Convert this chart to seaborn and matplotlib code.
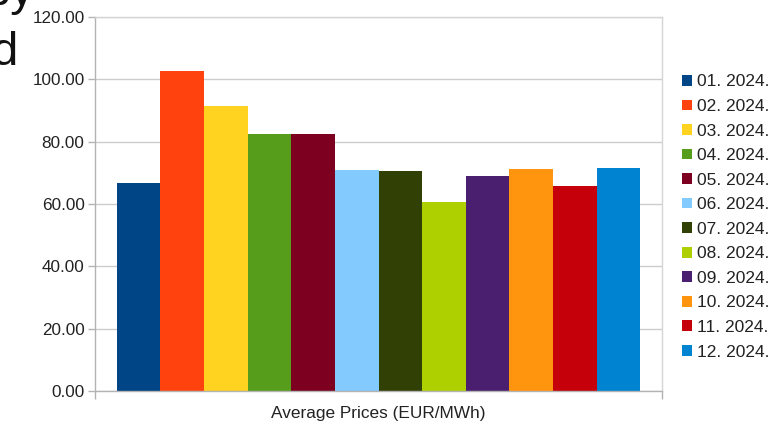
import matplotlib
matplotlib.use("Agg")
import matplotlib.pyplot as plt
import pandas as pd
import seaborn as sns
from matplotlib.patches import Patch
from matplotlib.ticker import FormatStrFormatter

months = ["01. 2024.", "02. 2024.", "03. 2024.", "04. 2024.", "05. 2024.", "06. 2024.",
          "07. 2024.", "08. 2024.", "09. 2024.", "10. 2024.", "11. 2024.", "12. 2024."]
prices = [66.7, 102.8, 91.3, 82.6, 82.3, 70.8, 70.6, 60.8, 69.1, 71.2, 65.7, 71.6]
category = "Average Prices (EUR/MWh)"
colors = ["#004586", "#ff420e", "#ffd320", "#579d1c", "#7e0021", "#83caff",
          "#314004", "#aecf00", "#4b1f6f", "#ff950e", "#c5000b", "#0084d1"]
yticks = [0, 20, 40, 60, 80, 100, 120]

sns.set_theme(style="white")
plt.rcParams["font.family"] = ["Liberation Sans", "DejaVu Sans"]

W, H = 769, 422
fig = plt.figure(figsize=(W / 100, H / 100), dpi=100)
ax = fig.add_axes([95 / W, 1 - 391 / H, (662 - 95) / W, (391 - 17) / H])

df = pd.DataFrame({"category": [category] * len(months), "month": months, "price": prices})
sns.barplot(data=df, x="category", y="price", hue="month", hue_order=months,
            palette=colors, saturation=1, width=0.924, legend=False, ax=ax,
            linewidth=0)

ax.set_ylim(0, 120)
ax.set_yticks(yticks)
ax.yaxis.set_major_formatter(FormatStrFormatter("%.2f"))
ax.yaxis.grid(True, color="#cccccc", lw=1)
ax.set_axisbelow(True)
for s in ["left", "bottom"]:
    ax.spines[s].set_color("#b3b3b3")
    ax.spines[s].set_linewidth(1)
for s in ["top", "right"]:
    ax.spines[s].set_color("#d5d5d5")
    ax.spines[s].set_linewidth(1)

ax.tick_params(axis="y", length=5, width=1, color="#b3b3b3", pad=2.5,
               labelsize=12.3, labelcolor="#222222", left=True)
ax.set_xticks([0])
ax.set_xticklabels([category])
ax.tick_params(axis="x", which="major", length=0, pad=11, labelsize=12.4, labelcolor="#222222")
ax.set_xticks([-0.5, 0.5], minor=True)
ax.tick_params(axis="x", which="minor", length=5.5, width=1, color="#b3b3b3", bottom=True)
ax.set_xlim(-0.5, 0.5)
ax.set_xlabel("")
ax.set_ylabel("")

handles = [Patch(facecolor=c, edgecolor="none") for c in colors]
fig.legend(handles, months, loc="center left", bbox_to_anchor=(682 / W, 1 - 217 / H),
           frameon=False, fontsize=12.5, handlelength=0.58, handleheight=0.58,
           handletextpad=0.3, labelspacing=0.55, borderpad=0, borderaxespad=0,
           labelcolor="#222222")

fig.text(34 / W, 1 - 5 / H, "by", ha="right", va="baseline", fontsize=34, color="#111111")
fig.text(18 / W, 1 - 65 / H, "d", ha="right", va="baseline", fontsize=34, color="#111111")

fig.savefig("out.png", dpi=100)
